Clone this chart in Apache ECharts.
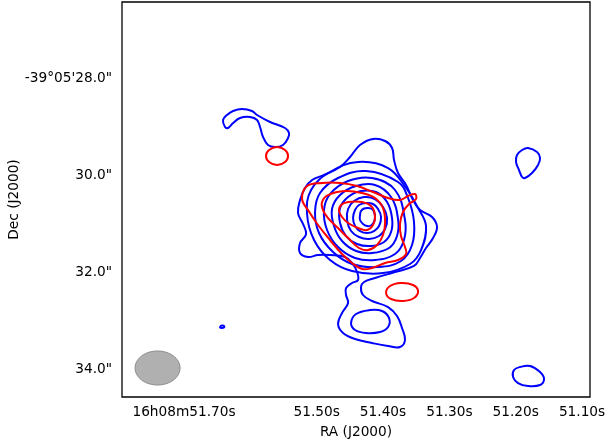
<!DOCTYPE html>
<html>
<head>
<meta charset="utf-8">
<script src="https://cdn.jsdelivr.net/npm/echarts@6/dist/echarts.min.js"></script>
<style>
  html, body { margin: 0; padding: 0; background: #fff; }
  #chart { width: 606px; height: 446px; }
</style>
</head>
<body>
<div id="chart"></div>
<script>
// Positions are [RA seconds (16h08m..s), Dec arcsec (-39°05'..")]

// Blue contours around the compact core, innermost first
const blueCore1 = [[51.4121,30.845],[51.4136,30.969],[51.4181,31.041],[51.4241,31.052],[51.4302,31.010],[51.4347,30.928],[51.4347,30.825],[51.4332,30.742],[51.4286,30.691],[51.4226,30.680],[51.4166,30.701],[51.4136,30.763]];
const blueCore2 = [[51.4030,30.866],[51.4060,31.052],[51.4136,31.155],[51.4241,31.196],[51.4347,31.155],[51.4422,31.052],[51.4452,30.887],[51.4422,30.722],[51.4362,30.619],[51.4256,30.577],[51.4151,30.598],[51.4075,30.701]];
const blueCore3 = [[51.3939,30.887],[51.3969,31.113],[51.4060,31.258],[51.4211,31.319],[51.4362,31.278],[51.4482,31.155],[51.4542,30.928],[51.4527,30.701],[51.4437,30.536],[51.4286,30.454],[51.4121,30.495],[51.4000,30.660]];
const blueCore4 = [[51.3864,30.887],[51.3879,31.175],[51.3985,31.381],[51.4181,31.464],[51.4392,31.423],[51.4557,31.258],[51.4648,30.990],[51.4648,30.681],[51.4527,30.454],[51.4332,30.330],[51.4106,30.351],[51.3939,30.557]];
const blueCore5 = [[51.3774,30.907],[51.3789,31.258],[51.3909,31.505],[51.4166,31.608],[51.4407,31.567],[51.4618,31.361],[51.4739,31.052],[51.4769,30.701],[51.4648,30.413],[51.4407,30.227],[51.4121,30.206],[51.3879,30.454]];
const blueCore6 = [[51.3669,30.928],[51.3684,31.340],[51.3819,31.629],[51.4121,31.753],[51.4422,31.711],[51.4678,31.485],[51.4844,31.134],[51.4890,30.722],[51.4799,30.392],[51.4527,30.124],[51.4166,30.062],[51.3819,30.309]];
const blueCore7 = [[51.3533,30.969],[51.3563,31.443],[51.3729,31.773],[51.4075,31.897],[51.4467,31.835],[51.4754,31.588],[51.4965,31.196],[51.5025,30.763],[51.4950,30.371],[51.4678,30.062],[51.4256,29.918],[51.3774,30.144],[51.3623,30.474]];
const blueCore8 = [[51.3352,31.052],[51.3427,31.547],[51.3593,31.835],[51.4000,32.021],[51.4467,31.980],[51.4799,31.753],[51.5040,31.340],[51.5145,30.804],[51.5085,30.309],[51.4799,29.938],[51.4377,29.732],[51.3924,29.856],[51.3653,30.268],[51.3472,30.681]];
const blueOuter = [[51.4151,29.257],[51.3969,29.299],[51.3864,29.443],[51.3834,29.691],[51.3774,29.959],[51.3653,30.206],[51.3548,30.516],[51.3442,30.722],[51.3261,30.866],[51.3186,31.072],[51.3246,31.299],[51.3352,31.505],[51.3442,31.711],[51.3533,31.876],[51.3819,32.000],[51.4121,32.124],[51.4286,32.206],[51.4332,32.309],[51.4302,32.474],[51.4166,32.598],[51.3924,32.722],[51.3789,32.907],[51.3714,33.155],[51.3669,33.402],[51.3744,33.546],[51.3924,33.526],[51.4166,33.464],[51.4422,33.381],[51.4603,33.258],[51.4678,33.072],[51.4618,32.846],[51.4527,32.639],[51.4557,32.474],[51.4557,32.330],[51.4467,32.227],[51.4377,32.165],[51.4392,32.000],[51.4467,31.814],[51.4573,31.691],[51.4799,31.650],[51.4980,31.650],[51.5131,31.691],[51.5251,31.608],[51.5251,31.402],[51.5160,31.217],[51.5206,31.010],[51.5281,30.784],[51.5251,30.516],[51.5176,30.268],[51.5070,30.103],[51.4890,30.000],[51.4648,29.835],[51.4497,29.629],[51.4347,29.381]];
const blueSouthKnot = [[51.4196,32.784],[51.4015,32.804],[51.3909,32.949],[51.3924,33.134],[51.4045,33.237],[51.4256,33.258],[51.4422,33.196],[51.4482,33.052],[51.4407,32.866]];
const blueNorthWest = [[51.6412,28.866],[51.6352,28.763],[51.6261,28.680],[51.6126,28.639],[51.5975,28.680],[51.5899,28.763],[51.5703,28.907],[51.5477,29.031],[51.5417,29.134],[51.5432,29.237],[51.5507,29.381],[51.5628,29.423],[51.5734,29.381],[51.5809,29.216],[51.5854,29.010],[51.5899,28.866],[51.6005,28.804],[51.6156,28.825],[51.6261,28.928],[51.6337,29.031],[51.6382,29.010]];
const blueEast = [[51.1814,29.443],[51.1678,29.526],[51.1633,29.650],[51.1663,29.794],[51.1754,29.959],[51.1859,30.062],[51.1904,30.041],[51.1950,29.897],[51.1995,29.732],[51.1980,29.588],[51.1904,29.485]];
const blueSouthEast = [[51.1935,33.959],[51.1784,33.938],[51.1633,34.062],[51.1573,34.206],[51.1633,34.330],[51.1814,34.351],[51.1965,34.289],[51.2040,34.165],[51.2025,34.021]];
const blueSpeck = [[51.6457,33.134],[51.6427,33.103],[51.6397,33.113],[51.6397,33.144],[51.6442,33.155]];

// Red contours, outermost first
const redOuter = [[51.5145,30.227],[51.4920,30.165],[51.4648,30.165],[51.4392,30.227],[51.4151,30.351],[51.3924,30.474],[51.3744,30.516],[51.3623,30.433],[51.3518,30.392],[51.3503,30.495],[51.3608,30.598],[51.3699,30.763],[51.3744,31.010],[51.3729,31.258],[51.3669,31.485],[51.3653,31.629],[51.3774,31.753],[51.3969,31.814],[51.4166,31.918],[51.4317,31.938],[51.4467,31.814],[51.4618,31.629],[51.4799,31.340],[51.4980,31.031],[51.5131,30.722],[51.5221,30.495]];
const redMiddle = [[51.4829,30.413],[51.4573,30.330],[51.4317,30.371],[51.4121,30.474],[51.4000,30.681],[51.3969,30.969],[51.4000,31.237],[51.4090,31.443],[51.4226,31.547],[51.4362,31.505],[51.4527,31.299],[51.4678,31.093],[51.4829,30.887],[51.4905,30.722],[51.4920,30.557]];
const redInner = [[51.4527,30.557],[51.4317,30.557],[51.4166,30.660],[51.4121,30.866],[51.4151,31.031],[51.4241,31.134],[51.4377,31.093],[51.4527,30.990],[51.4618,30.866],[51.4663,30.742],[51.4633,30.619]];
const redNorthWest = [[51.5432,29.608],[51.5477,29.732],[51.5598,29.794],[51.5718,29.732],[51.5764,29.608],[51.5718,29.485],[51.5598,29.423],[51.5477,29.485]];
const redSouthEast = [[51.3472,32.392],[51.3533,32.536],[51.3699,32.598],[51.3879,32.557],[51.3954,32.433],[51.3894,32.289],[51.3729,32.227],[51.3548,32.268]];

// Synthesized beam: centre [RA s, Dec "], semi-axes [RA s, Dec "]
const beamCentre = [51.7399, 33.979];
const beamSemiAxes = [0.0339, 0.351];

// Axis extent and labelled ticks
const raRange = [51.0880, 51.7935];
const decRange = [26.433, 34.577];
const raTicks = [51.7, 51.5, 51.4, 51.3, 51.2, 51.1];
const decTicks = [28, 30, 32, 34];

const blueContours = [blueOuter, blueCore8, blueCore7, blueCore6, blueCore5, blueCore4, blueCore3, blueCore2, blueCore1,
  blueSouthKnot, blueNorthWest, blueEast, blueSouthEast, blueSpeck];
const redContours = [redOuter, redMiddle, redInner, redNorthWest, redSouthEast];

const FONT = 'DejaVu Sans';
const FONT_SIZE = 13.7;

function contourSeries(contours, color) {
  return {
    type: 'custom',
    coordinateSystem: 'cartesian2d',
    silent: true,
    clip: true,
    data: contours.map(c => c[0]),
    renderItem: function (params, api) {
      const pts = contours[params.dataIndex].map(p => api.coord(p));
      return {
        type: 'polygon',
        shape: { points: pts, smooth: 0.4 },
        style: { fill: 'none', stroke: color, lineWidth: 2 }
      };
    }
  };
}

const chart = echarts.init(document.getElementById('chart'), null, { renderer: 'canvas' });
chart.setOption({
  animation: false,
  backgroundColor: '#ffffff',
  grid: {
    left: 122, top: 2, width: 468, height: 395,
    containLabel: false,
    outerBoundsMode: 'none',
    show: true, borderColor: '#000', borderWidth: 1.3, backgroundColor: '#ffffff'
  },
  xAxis: {
    type: 'value',
    inverse: true,
    min: raRange[0], max: raRange[1],
    name: 'RA (J2000)',
    nameLocation: 'middle',
    nameGap: 28,
    nameMoveOverlap: false,
    nameTextStyle: { fontFamily: FONT, fontSize: FONT_SIZE, color: '#000' },
    axisLine: { show: false },
    axisTick: { show: false },
    splitLine: { show: false },
    axisLabel: {
      customValues: raTicks,
      margin: 8,
      hideOverlap: false,
      fontFamily: FONT, fontSize: FONT_SIZE, color: '#000',
      formatter: v => (Math.abs(v - 51.7) < 1e-6 ? '16h08m' : '') + v.toFixed(2) + 's'
    }
  },
  yAxis: {
    type: 'value',
    inverse: true,
    min: decRange[0], max: decRange[1],
    name: 'Dec (J2000)',
    nameLocation: 'middle',
    nameGap: 101,
    nameMoveOverlap: false,
    nameTextStyle: { fontFamily: FONT, fontSize: FONT_SIZE, color: '#000' },
    axisLine: { show: false },
    axisTick: { show: false },
    splitLine: { show: false },
    axisLabel: {
      customValues: decTicks,
      margin: 10,
      fontFamily: FONT, fontSize: FONT_SIZE, color: '#000',
      formatter: v => (Math.abs(v - 28) < 1e-6 ? "-39°05'" : '') + v.toFixed(1) + '"'
    }
  },
  series: [
    {
      type: 'custom',
      coordinateSystem: 'cartesian2d',
      silent: true,
      data: [beamCentre],
      renderItem: function (params, api) {
        const c = api.coord(beamCentre);
        const s = api.size(beamSemiAxes);
        const pts = [];
        for (let i = 0; i < 72; i++) {
          const t = i / 72 * Math.PI * 2;
          pts.push([c[0] + s[0] * Math.cos(t), c[1] + s[1] * Math.sin(t)]);
        }
        return {
          type: 'polygon',
          shape: { points: pts },
          style: { fill: '#b0b0b0', stroke: '#8c8c8c', lineWidth: 1 }
        };
      }
    },
    contourSeries(blueContours, '#0000ff'),
    contourSeries(redContours, '#ff0000')
  ]
});
</script>
</body>
</html>
